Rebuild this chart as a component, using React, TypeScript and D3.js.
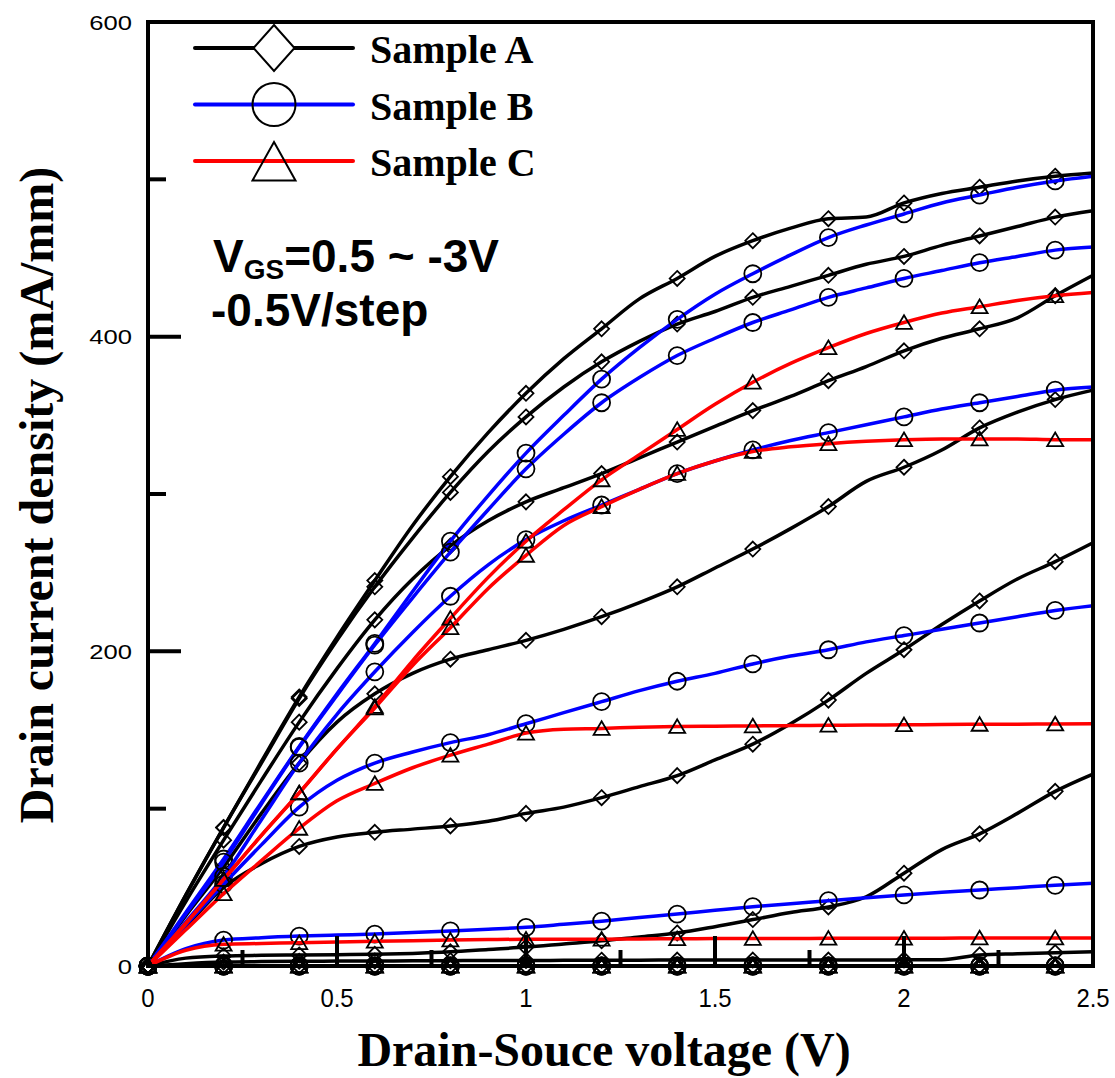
import React from 'react';
import * as d3 from 'd3';

// Drain-source voltage grid (V)
const voltage = [0, 0.1, 0.2, 0.3, 0.4, 0.5, 0.6, 0.7, 0.8, 0.9, 1.0, 1.1, 1.2, 1.3, 1.4, 1.5, 1.6, 1.7, 1.8, 1.9, 2.0, 2.1, 2.2, 2.3, 2.4, 2.5];

// Sample A (VGS = 0.5 ... -3 V, -0.5 V/step)
const sampleA_vgs05 = [0, 45, 88, 130, 171, 209, 245, 280, 311, 339, 364, 386, 405, 424, 437, 451, 461, 469, 475, 476, 485, 491, 495, 499, 502, 504];
const sampleA_vgs0 = [0, 45, 88, 129, 170, 207, 241, 272, 301, 327, 349, 368, 384, 397, 408, 416, 425, 432, 439, 446, 451, 458, 464, 470, 476, 480];
const sampleA_vgsm05 = [0, 41, 80, 118, 155, 189, 220, 246, 267, 283, 295, 304, 313, 323, 333, 343, 353, 362, 372, 381, 391, 399, 405, 412, 426, 439];
const sampleA_vgsm1 = [0, 32, 63, 97, 129, 155, 173, 186, 195, 201, 207, 214, 222, 231, 241, 253, 265, 278, 292, 308, 317, 328, 342, 352, 360, 366];
const sampleA_vgsm15 = [0, 25, 50, 65, 76, 82, 85, 87, 89, 92, 97, 101, 107, 114, 121, 131, 141, 154, 169, 186, 201, 217, 232, 246, 257, 269];
const sampleA_vgsm2 = [0, 5, 6.4, 6.8, 7, 7.2, 7.4, 8, 9, 10.5, 12, 14, 16, 18.5, 21, 25, 29.5, 34, 37.5, 44, 59, 74, 84, 97, 111, 122];
const sampleA_vgsm25 = [0, 1.5, 2.5, 2.8, 3, 3.1, 3.2, 3.3, 3.4, 3.5, 3.5, 3.6, 3.7, 3.7, 3.8, 3.8, 3.8, 3.8, 3.8, 3.8, 3.9, 4, 7, 7.8, 8.5, 9];
const sampleA_vgsm3 = [0, 0, 0, 0, 0, 0, 0, 0, 0, 0, 0, 0, 0, 0, 0, 0, 0, 0, 0, 0, 0, 0, 0, 0, 0, 0];

// Sample B
const sampleB_vgs05 = [0, 34, 68, 104, 139.5, 173, 205, 238, 270, 299, 326, 350, 373, 393, 411, 427, 440, 452, 463, 471, 478, 485, 490, 495, 499, 502];
const sampleB_vgs0 = [0, 33, 66, 103, 139, 172, 204, 234, 263, 290, 316, 338, 358, 374, 388, 399, 409, 417, 425, 431, 437, 442, 447, 451, 455, 457];
const sampleB_vgsm05 = [0, 28, 57, 93, 129, 160, 187, 212, 235, 255, 271, 283, 293, 303, 313, 321, 328, 334, 339, 344, 349, 354, 358, 362, 366, 368];
const sampleB_vgsm1 = [0, 26, 52, 77, 101, 118, 129, 136, 142, 147, 154, 161, 168, 175, 181, 186, 192, 197, 201, 206, 210, 214, 218, 222, 226, 229];
const sampleB_vgsm15 = [0, 11, 16.5, 18, 19, 19.7, 20.3, 21.3, 22.3, 23.4, 24.6, 26.5, 28.5, 30.8, 33, 35.4, 37.7, 39.6, 41.5, 43.4, 45.2, 46.8, 48.3, 49.8, 51.3, 52.6];
const sampleB_vgsm2 = [0, 0, 0, 0, 0, 0, 0, 0, 0, 0, 0, 0, 0, 0, 0, 0, 0, 0, 0, 0, 0, 0, 0, 0, 0, 0];
const sampleB_vgsm25 = [0, 0, 0, 0, 0, 0, 0, 0, 0, 0, 0, 0, 0, 0, 0, 0, 0, 0, 0, 0, 0, 0, 0, 0, 0, 0];
const sampleB_vgsm3 = [0, 0, 0, 0, 0, 0, 0, 0, 0, 0, 0, 0, 0, 0, 0, 0, 0, 0, 0, 0, 0, 0, 0, 0, 0, 0];

// Sample C
const sampleC_vgs05 = [0, 27, 55, 83, 110, 138, 165, 194, 221, 247, 270, 290, 309, 325, 341, 357, 371, 383, 393, 402, 409, 415, 419, 423, 426, 428];
const sampleC_vgs0 = [0, 27, 55, 83, 110, 138, 164, 191, 215, 240, 261, 280, 292, 303, 313, 321, 327, 330, 332, 333.5, 334.5, 335, 335, 335, 334.5, 334.5];
const sampleC_vgsm05 = [0, 23, 46, 67, 87.5, 105, 116, 126, 134, 141, 148, 150.5, 151, 151.8, 152.2, 152.4, 152.6, 152.8, 153, 153.2, 153.3, 153.5, 153.6, 153.7, 153.8, 153.9];
const sampleC_vgsm1 = [0, 10, 13.8, 14.3, 14.8, 15.3, 15.7, 16.1, 16.5, 16.8, 17, 17, 17, 17.2, 17.3, 17.4, 17.5, 17.5, 17.6, 17.6, 17.7, 17.7, 17.8, 17.8, 17.8, 17.8];
const sampleC_vgsm15 = [0, 0, 0, 0, 0, 0, 0, 0, 0, 0, 0, 0, 0, 0, 0, 0, 0, 0, 0, 0, 0, 0, 0, 0, 0, 0];
const sampleC_vgsm2 = [0, 0, 0, 0, 0, 0, 0, 0, 0, 0, 0, 0, 0, 0, 0, 0, 0, 0, 0, 0, 0, 0, 0, 0, 0, 0];
const sampleC_vgsm25 = [0, 0, 0, 0, 0, 0, 0, 0, 0, 0, 0, 0, 0, 0, 0, 0, 0, 0, 0, 0, 0, 0, 0, 0, 0, 0];
const sampleC_vgsm3 = [0, 0, 0, 0, 0, 0, 0, 0, 0, 0, 0, 0, 0, 0, 0, 0, 0, 0, 0, 0, 0, 0, 0, 0, 0, 0];

const sampleNames = ['Sample A', 'Sample B', 'Sample C'];
const sampleColors = ['#000000', '#0000ff', '#ff0000'];
const sampleMarkers = ['diamond', 'circle', 'triangle'];

const yTicks = [0, 200, 400, 600];
const yMinorTicks = [100, 300, 500];
const xTicks = [0, 0.5, 1, 1.5, 2, 2.5];
const xTickLabels = ['0', '0.5', '1', '1.5', '2', '2.5'];
const xMinorTicks = [0.25, 0.75, 1.25, 1.75, 2.25];
const markerVoltages = [0, 0.2, 0.4, 0.6, 0.8, 1.0, 1.2, 1.4, 1.6, 1.8, 2.0, 2.2, 2.4];

const sampleSeries = [
  [sampleA_vgs05, sampleA_vgs0, sampleA_vgsm05, sampleA_vgsm1, sampleA_vgsm15, sampleA_vgsm2, sampleA_vgsm25, sampleA_vgsm3],
  [sampleB_vgs05, sampleB_vgs0, sampleB_vgsm05, sampleB_vgsm1, sampleB_vgsm15, sampleB_vgsm2, sampleB_vgsm25, sampleB_vgsm3],
  [sampleC_vgs05, sampleC_vgs0, sampleC_vgsm05, sampleC_vgsm1, sampleC_vgsm15, sampleC_vgsm2, sampleC_vgsm25, sampleC_vgsm3],
];

function markerPath(kind: string, s: number): string {
  if (kind === 'diamond') return `M0,${-s}L${s},0L0,${s}L${-s},0Z`;
  if (kind === 'triangle') return `M0,${-s * 0.9}L${s},${s * 0.8}L${-s},${s * 0.8}Z`;
  return '';
}

function Marker({ kind, cx, cy, size, fill }: { kind: string; cx: number; cy: number; size: number; fill?: string }) {
  if (kind === 'circle') {
    return <circle cx={cx} cy={cy} r={size} fill={fill || 'none'} stroke="#000" strokeWidth={1.8} />;
  }
  return <path d={markerPath(kind, size)} transform={`translate(${cx},${cy})`} fill={fill || 'none'} stroke="#000" strokeWidth={1.8} />;
}

export default function App() {
  const x = d3.scaleLinear().domain([0, 2.5]).range([148, 1093]);
  const y = d3.scaleLinear().domain([0, 600]).range([966, 22]);
  const line = d3
    .line<number>()
    .x((_, i) => x(voltage[i]))
    .y((d) => y(d))
    .curve(d3.curveMonotoneX);

  const markerSize = [7.5, 8.5, 8];

  return (
    <svg width={1115} height={1078} style={{ position: 'absolute', left: 0, top: 0, background: '#fff' }}>
      <rect x={0} y={0} width={1115} height={1078} fill="#fff" />

      {/* series */}
      {sampleSeries.map((group, si) => (
        <g key={si}>
          {group.map((vals, ci) => (
            <g key={ci}>
              <path d={line(vals) || ''} fill="none" stroke={sampleColors[si]} strokeWidth={3.5} strokeLinejoin="round" />
              {markerVoltages.map((mv) => {
                const idx = voltage.findIndex((v) => Math.abs(v - mv) < 1e-6);
                return <Marker key={mv} kind={sampleMarkers[si]} cx={x(mv)} cy={y(vals[idx])} size={markerSize[si]} />;
              })}
            </g>
          ))}
        </g>
      ))}

      {/* axes box */}
      <rect x={148} y={22} width={1093 - 148} height={966 - 22} fill="none" stroke="#000" strokeWidth={4} />

      {/* y ticks */}
      {yTicks.map((t) => (
        <g key={`yt${t}`}>
          <line x1={148} x2={181} y1={y(t)} y2={y(t)} stroke="#000" strokeWidth={4} />
          <text
            transform={`translate(132,${y(t) + 7.5}) scale(1.28,1)`}
            textAnchor="end"
            fontFamily="'Liberation Sans', Arial, sans-serif"
            fontSize={20}
            fill="#000"
          >
            {t}
          </text>
        </g>
      ))}
      {yMinorTicks.map((t) => (
        <line key={`ym${t}`} x1={148} x2={166} y1={y(t)} y2={y(t)} stroke="#000" strokeWidth={4} />
      ))}

      {/* x ticks */}
      {xTicks.map((t, i) => (
        <g key={`xt${t}`}>
          <line x1={x(t)} x2={x(t)} y1={966} y2={936} stroke="#000" strokeWidth={4} />
          <text
            transform={`translate(${x(t)},1007) scale(0.92,1)`}
            textAnchor="middle"
            fontFamily="'Liberation Sans', Arial, sans-serif"
            fontSize={26}
            fill="#000"
          >
            {xTickLabels[i]}
          </text>
        </g>
      ))}
      {xMinorTicks.map((t) => (
        <line key={`xm${t}`} x1={x(t)} x2={x(t)} y1={966} y2={950} stroke="#000" strokeWidth={4} />
      ))}

      {/* axis titles */}
      <text
        x={604}
        y={1066}
        textAnchor="middle"
        fontFamily="'Liberation Serif', 'Times New Roman', serif"
        fontWeight="bold"
        fontSize={48}
        fill="#000"
      >
        Drain-Souce voltage (V)
      </text>
      <text
        transform="translate(53,495) rotate(-90)"
        textAnchor="middle"
        fontFamily="'Liberation Serif', 'Times New Roman', serif"
        fontWeight="bold"
        fontSize={48}
        fill="#000"
      >
        Drain current density (mA/mm)
      </text>

      {/* legend */}
      {sampleNames.map((name, i) => {
        const ly = [48, 104.5, 161][i];
        return (
          <g key={name}>
            <line x1={195} x2={353} y1={ly} y2={ly} stroke={sampleColors[i]} strokeWidth={4} strokeLinecap="round" />
            {sampleMarkers[i] === 'diamond' && (
              <path d={`M0,-23L20.5,0L0,23L-20.5,0Z`} transform={`translate(274,${ly})`} fill="#fff" stroke="#000" strokeWidth={2} />
            )}
            {sampleMarkers[i] === 'circle' && <circle cx={274} cy={ly} r={21.5} fill="none" stroke="#000" strokeWidth={2} />}
            {sampleMarkers[i] === 'triangle' && (
              <path d={`M0,-19L21.5,19.5L-21.5,19.5Z`} transform={`translate(274,${ly})`} fill="none" stroke="#000" strokeWidth={2} />
            )}
            <text
              x={370}
              y={ly + 15}
              fontFamily="'Liberation Serif', 'Times New Roman', serif"
              fontWeight="bold"
              fontSize={40}
              fill="#000"
            >
              {name}
            </text>
          </g>
        );
      })}

      {/* annotation */}
      <text x={213} y={272} fontFamily="'Liberation Sans', Arial, sans-serif" fontWeight="bold" fontSize={46} fill="#000">
        V<tspan fontSize={28} dy={7}>GS</tspan>
        <tspan dy={-7}>=0.5 ~ -3V</tspan>
      </text>
      <text x={211} y={326} fontFamily="'Liberation Sans', Arial, sans-serif" fontWeight="bold" fontSize={46} fill="#000">
        -0.5V/step
      </text>
    </svg>
  );
}
